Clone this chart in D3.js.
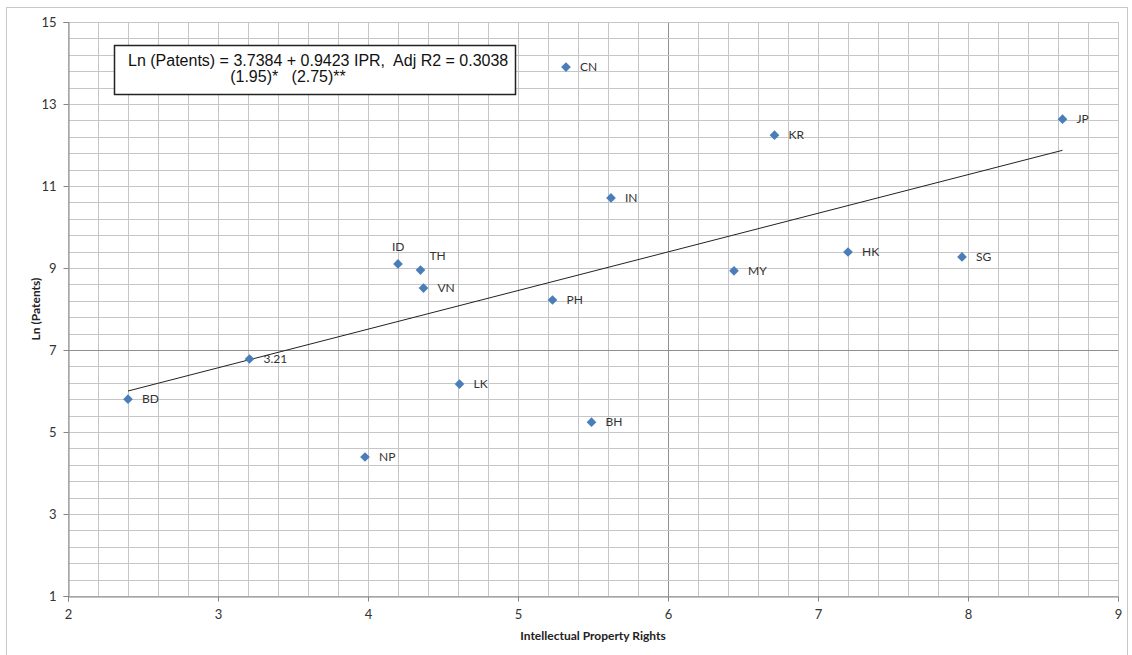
<!DOCTYPE html>
<html><head><meta charset="utf-8">
<script src="https://cdn.jsdelivr.net/npm/d3@7"></script>
<style>body{margin:0;background:#fff;}svg{display:block;}</style>
</head><body>
<svg id="c" width="1132" height="655"></svg>
<script>
const countries = ["BD","3.21","NP","ID","TH","VN","LK","PH","CN","IN","BH","MY","KR","HK","SG","JP"];
const iprValues = [2.40,3.21,3.98,4.20,4.35,4.37,4.61,5.23,5.32,5.62,5.49,6.44,6.71,7.20,7.96,8.63];
const lnPatents = [5.80,6.78,4.39,9.10,8.95,8.51,6.17,8.22,13.90,10.71,5.24,8.93,12.24,9.39,9.27,12.63];
const xTicks = [2,3,4,5,6,7,8,9];
const yTicks = [1,3,5,7,9,11,13,15];
const trendIntercept = 3.7384, trendSlope = 0.9423;
const eqLine1 = "Ln (Patents) = 3.7384 + 0.9423 IPR,  Adj R2 = 0.3038";
const eqLine2 = "(1.95)*   (2.75)**";

const svg = d3.select("#c");
const L=68,R=1118,T=22,B=596;
const x = d3.scaleLinear().domain([2,9]).range([L,R]);
const y = d3.scaleLinear().domain([1,15]).range([B,T]);

// outer frame
svg.append("rect").attr("x",6.5).attr("y",7.5).attr("width",1121).attr("height",660)
  .attr("fill","none").attr("stroke","#c8c8c8");

// grid
const g = svg.append("g");
const xMinor = d3.range(2,9.001,0.2);
const yMinor = d3.range(1,15.001,0.4);
g.selectAll(".vx").data(xMinor).join("line")
  .attr("x1",d=>Math.round(x(d))+0.5).attr("x2",d=>Math.round(x(d))+0.5)
  .attr("y1",T).attr("y2",B)
  .attr("stroke",d=>Math.abs(d-6)<1e-6?"#8f8f8f":"#c6c6c6").attr("stroke-width",1);
g.selectAll(".hy").data(yMinor).join("line")
  .attr("y1",d=>Math.round(y(d))+0.5).attr("y2",d=>Math.round(y(d))+0.5)
  .attr("x1",L).attr("x2",R)
  .attr("stroke",d=>Math.abs(d-7)<1e-6?"#8f8f8f":"#c6c6c6").attr("stroke-width",1);

// axes
const xAxis = d3.axisBottom(x).tickValues(xTicks).tickSize(5).tickFormat(d3.format("d"));
const yAxis = d3.axisLeft(y).tickValues(yTicks).tickSize(5).tickFormat(d3.format("d"));
const gx = svg.append("g").attr("transform",`translate(0,${B+0.5})`).call(xAxis);
const gy = svg.append("g").attr("transform",`translate(${L+0.5},0)`).call(yAxis);
[gx,gy].forEach(a=>{
  a.select(".domain").attr("stroke","#868686");
  a.selectAll(".tick line").attr("stroke","#868686");
  a.selectAll(".tick text").attr("fill","#333").style("font-family","Lato, 'Open Sans', sans-serif").style("font-size","13px");
});
gx.selectAll(".tick text").attr("dy","1.1em");
gy.selectAll(".tick text").attr("dx","-0.3em");

// axis titles
svg.append("text").attr("x",(L+R)/2).attr("y",640).attr("text-anchor","middle")
  .style("font-family","Lato, 'Open Sans', sans-serif").style("font-size","12px").style("font-weight","bold")
  .attr("fill","#222").text("Intellectual Property Rights");
svg.append("text").attr("transform",`translate(40,${(T+B)/2}) rotate(-90)`).attr("text-anchor","middle")
  .style("font-family","Lato, 'Open Sans', sans-serif").style("font-size","12px").style("font-weight","bold")
  .attr("fill","#222").text("Ln (Patents)");

// trend line
const xmin = d3.min(iprValues), xmax = d3.max(iprValues);
svg.append("line").attr("x1",x(xmin)).attr("y1",y(trendIntercept+trendSlope*xmin))
  .attr("x2",x(xmax)).attr("y2",y(trendIntercept+trendSlope*xmax))
  .attr("stroke","#222").attr("stroke-width",1);

// points
const data = countries.map((c,i)=>({c, x:iprValues[i], y:lnPatents[i]}));
const dia = d3.symbol().type(d3.symbolDiamond2).size(60);
svg.selectAll(".pt").data(data).join("path")
  .attr("d",dia).attr("transform",d=>`translate(${x(d.x)},${y(d.y)})`)
  .attr("fill","#4a7ebb");

// labels
const off = {"ID":[-6,-17],"TH":[9,-14]};
svg.selectAll(".lb").data(data).join("text")
  .attr("x",d=>x(d.x)+(off[d.c]?off[d.c][0]:14))
  .attr("y",d=>y(d.y)+(off[d.c]?off[d.c][1]:0))
  .attr("dy","0.35em")
  .style("font-family","Lato, 'Open Sans', sans-serif").style("font-size","12px")
  .attr("fill","#333").text(d=>d.c);

// equation box
svg.append("rect").attr("x",114.5).attr("y",45.5).attr("width",401).attr("height",49)
  .attr("fill","#fff").attr("stroke","#222").attr("stroke-width",1.5);
svg.append("text").attr("x",128).attr("y",66)
  .style("font-family","'Liberation Sans', Arial, sans-serif").style("font-size","16px")
  .attr("fill","#111").style("white-space","pre").text(eqLine1);
svg.append("text").attr("x",288).attr("y",82).attr("text-anchor","middle")
  .style("font-family","'Liberation Sans', Arial, sans-serif").style("font-size","16px")
  .attr("fill","#111").style("white-space","pre").text(eqLine2);
</script>
</body></html>
